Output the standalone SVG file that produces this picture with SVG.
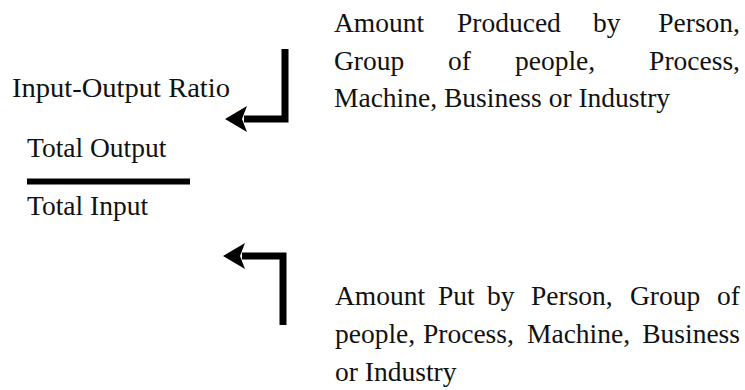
<svg xmlns="http://www.w3.org/2000/svg" width="745" height="390" viewBox="0 0 745 390">
<style>
text{font-family:"Liberation Serif","Times New Roman",serif;font-size:27.5px;fill:#111}
.e{text-anchor:end}
.bar{fill:none;stroke:#000;stroke-width:7;stroke-linejoin:miter;stroke-linecap:butt}
</style>
<rect width="745" height="390" fill="#fff"/>
<g id="ratio">
<text x="12" y="97" textLength="218" lengthAdjust="spacingAndGlyphs">Input-Output Ratio</text>
<text x="27" y="157">Total Output</text>
<line x1="27" y1="181.5" x2="190" y2="181.5" stroke="#000" stroke-width="6"/>
<text x="27" y="215">Total Input</text>
</g>
<g id="output-desc">
<text x="334" y="32">Amount</text><text x="457" y="32">Produced</text><text x="593" y="32">by</text><text class="e" x="740" y="32">Person,</text>
<text x="334" y="70">Group</text><text x="448" y="70">of</text><text x="515" y="70">people,</text><text class="e" x="740" y="70">Process,</text>
<text x="334" y="107">Machine, Business or Industry</text>
</g>
<g id="input-desc">
<text x="335" y="305">Amount</text><text x="438" y="305">Put</text><text x="487" y="305">by</text><text x="531" y="305">Person,</text><text x="630" y="305">Group</text><text class="e" x="740" y="305">of</text>
<text x="335" y="343">people,</text><text x="423" y="343">Process,</text><text x="527" y="343">Machine,</text><text class="e" x="740" y="343">Business</text>
<text x="335" y="381">or Industry</text>
</g>
<g id="connectors">
<path class="bar" d="M285,49 V119 H244"/>
<polygon points="225,119 247,106 242,119 247,132" fill="#000"/>
<path class="bar" d="M283,325 V256 H242"/>
<polygon points="223,256 245,243 240,256 245,269" fill="#000"/>
</g>
</svg>
